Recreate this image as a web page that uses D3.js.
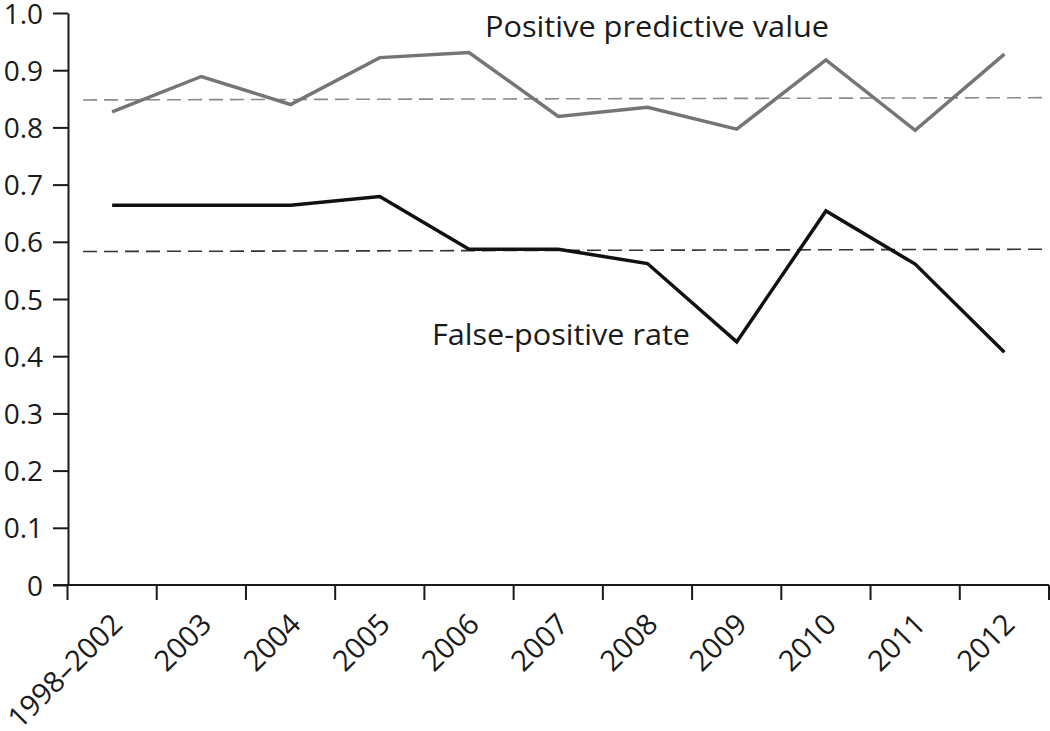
<!DOCTYPE html>
<html><head><meta charset="utf-8">
<script src="https://cdn.jsdelivr.net/npm/d3@7"></script>
<style>body{margin:0;background:#fff}svg{display:block}text{font-family:"Open Sans","Noto Sans",sans-serif;fill:#1a1a1a}</style>
</head><body>
<svg id="c" width="1050" height="731"></svg>
<script>
const categories = ["1998\u20132002","2003","2004","2005","2006","2007","2008","2009","2010","2011","2012"];
const ppv = [0.827,0.889,0.840,0.922,0.931,0.819,0.835,0.797,0.918,0.795,0.928];
const fpr = [0.664,0.664,0.664,0.679,0.587,0.587,0.562,0.425,0.654,0.561,0.407];
const ppvMean = [0.848,0.852];
const fprMean = [0.583,0.587];
const yTicks = [0,0.1,0.2,0.3,0.4,0.5,0.6,0.7,0.8,0.9,1.0];
const seriesLabels = ["Positive predictive value","False-positive rate"];

const svg = d3.select("#c");
const x = d3.scaleBand().domain(categories).range([67.5,1049]).padding(0);
const y = d3.scaleLinear().domain([0,1]).range([585,13]);
const fmt = v => v===0 ? "0" : d3.format(".1f")(v);

// y axis
const ya = svg.append("g").attr("transform","translate(68,0)")
  .call(d3.axisLeft(y).tickValues(yTicks).tickFormat(fmt).tickSize(15).tickPadding(10).tickSizeOuter(0));
ya.select(".domain").attr("stroke","#1a1a1a").attr("stroke-width",2);
ya.selectAll(".tick line").attr("stroke","#1a1a1a").attr("stroke-width",2);
ya.selectAll(".tick text").attr("font-size",28).attr("font-family","Open Sans, sans-serif").attr("fill","#1a1a1a").attr("dy","0.36em");

// x axis: line + ticks at band boundaries
const bounds = categories.map(c=>x(c)).concat([x.range()[1]]);
svg.append("line").attr("x1",53).attr("x2",1049).attr("y1",585).attr("y2",585)
  .attr("stroke","#1a1a1a").attr("stroke-width",2);
svg.append("g").selectAll("line").data(bounds).join("line")
  .attr("x1",d=>d).attr("x2",d=>d).attr("y1",585).attr("y2",600)
  .attr("stroke","#1a1a1a").attr("stroke-width",2);
svg.append("g").selectAll("text").data(categories).join("text")
  .attr("transform",d=>`translate(${x(d)+x.bandwidth()/2+12},${626}) rotate(-45)`)
  .attr("text-anchor","end").attr("font-size",29).text(d=>d);

// mean dashed lines
const xm0 = 83, xm1 = 1048;
svg.append("line").attr("x1",xm0).attr("x2",xm1).attr("y1",y(ppvMean[0])).attr("y2",y(ppvMean[1]))
  .attr("stroke","#8a8a8a").attr("stroke-width",1.6).attr("stroke-dasharray","14,7");
svg.append("line").attr("x1",xm0).attr("x2",xm1).attr("y1",y(fprMean[0])).attr("y2",y(fprMean[1]))
  .attr("stroke","#333").attr("stroke-width",1.6).attr("stroke-dasharray","14,7");

const line = d3.line().x((d,i)=>x(categories[i])+x.bandwidth()/2).y(d=>y(d));
svg.append("path").datum(ppv).attr("d",line).attr("fill","none")
  .attr("stroke","#757575").attr("stroke-width",3.5).attr("stroke-linejoin","miter");
svg.append("path").datum(fpr).attr("d",line).attr("fill","none")
  .attr("stroke","#111").attr("stroke-width",3.5).attr("stroke-linejoin","miter");

svg.append("text").attr("x",485).attr("y",37).attr("font-size",30).attr("textLength",344).attr("lengthAdjust","spacingAndGlyphs").text(seriesLabels[0]);
svg.append("text").attr("x",432).attr("y",345).attr("font-size",30).attr("textLength",258).attr("lengthAdjust","spacingAndGlyphs").text(seriesLabels[1]);
</script>
</body></html>
